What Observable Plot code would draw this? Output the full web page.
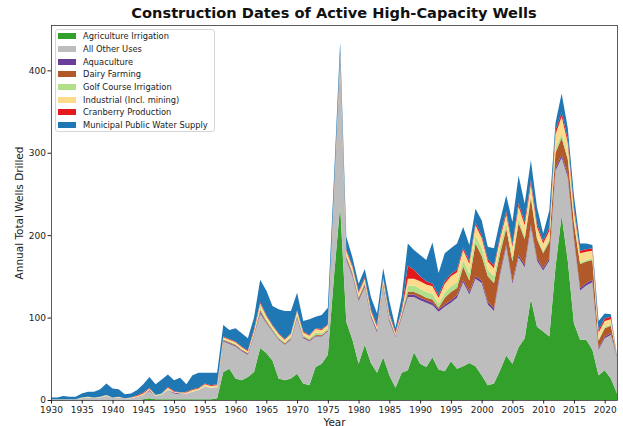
<!DOCTYPE html>
<html><head><meta charset="utf-8">
<script src="https://cdn.jsdelivr.net/npm/d3@7"></script>
<script src="https://cdn.jsdelivr.net/npm/@observablehq/plot@0.6"></script>
<style>
body{margin:0;background:#fff;font-family:"DejaVu Sans",sans-serif;}
#wrap{position:relative;width:623px;height:426px;overflow:hidden;}
#title{height:23px;padding-top:3px;box-sizing:border-box;line-height:20px;text-align:center;font-weight:bold;font-size:14.6px;color:#111;padding-left:45px;}
#legend{position:absolute;left:55px;top:29px;width:160px;height:103px;box-sizing:border-box;border:1px solid #d6d6d6;border-radius:3px;background:rgba(255,255,255,0.85);padding:0 0 0 2px;font-size:8.3px;color:#222;}
.item{height:12.7px;display:flex;align-items:center;white-space:nowrap;}
.sw{width:18px;height:6px;margin-right:7px;flex:none;}
</style></head><body>
<div id="wrap"><div id="title">Construction Dates of Active High-Capacity Wells</div><div id="chart"></div><div id="legend"></div></div>
<script>
const years = [1930,1931,1932,1933,1934,1935,1936,1937,1938,1939,1940,1941,1942,1943,1944,1945,1946,1947,1948,1949,1950,1951,1952,1953,1954,1955,1956,1957,1958,1959,1960,1961,1962,1963,1964,1965,1966,1967,1968,1969,1970,1971,1972,1973,1974,1975,1976,1977,1978,1979,1980,1981,1982,1983,1984,1985,1986,1987,1988,1989,1990,1991,1992,1993,1994,1995,1996,1997,1998,1999,2000,2001,2002,2003,2004,2005,2006,2007,2008,2009,2010,2011,2012,2013,2014,2015,2016,2017,2018,2019,2020,2021,2022];

const agriculture = [0,0,0,0,0,0,0,0,0,0, 0,0,0,0,0,1,2,1,1,1, 1,1,1,1,1,1,1,2,34,38, 26,24,28,34,63,57,48,26,24,26, 32,20,18,40,44,55,150,236,95,73, 44,67,45,33,52,30,15,33,36,58, 44,40,52,37,35,47,38,41,45,41, 30,18,20,36,54,44,64,75,123,89, 83,77,161,224,169,93,73,73,61,30, 36,26,8];
const otherUses = [1,1,1,1,1,2,3,3,3,5, 3,3,2,2,4,5,9,4,6,11, 7,6,7,9,11,15,14,13,37,30, 39,35,27,44,42,36,35,47,43,47, 67,55,53,37,33,28,95,172,75,77, 76,70,55,49,85,65,61,67,89,67, 77,78,63,70,78,71,86,102,83,106, 112,98,88,116,132,97,109,86,87,80, 74,92,117,70,101,101,60,66,82,31, 39,53,44];
const aquaculture = [0,0,0,0,0,0,0,0,0,0, 0,0,0,0,0,0,1,0,0,0, 1,1,0,0,0,0,0,0,1,1, 1,1,1,1,2,1,1,1,1,1, 1,1,1,1,1,1,2,2,2,2, 2,2,2,2,2,2,1,2,3,3, 3,3,3,3,3,3,3,3,3,3, 3,3,3,3,3,3,3,3,3,3, 3,3,3,4,3,3,3,3,3,2, 2,2,1];
const dairy = [0,0,0,0,0,0,0,0,0,0, 0,0,0,0,0,0,0,0,0,0, 0,0,0,0,0,0,0,0,1,1, 1,1,1,1,2,2,1,1,1,1, 2,1,1,1,1,1,2,2,2,2, 2,2,1,1,2,2,1,2,3,3, 4,3,4,2,8,10,9,16,14,40, 30,31,31,23,19,24,39,31,32,23, 18,20,19,20,19,18,29,26,24,9, 10,9,0];
const golf = [0,0,0,0,0,0,0,0,0,0, 0,0,0,0,0,0,0,0,0,1, 0,0,0,0,0,1,0,1,1,1, 1,1,0,1,3,2,2,2,1,2, 2,2,2,3,2,2,1,2,2,2, 2,2,2,1,2,2,1,2,8,8, 7,7,7,5,6,7,7,8,9,10, 10,8,8,8,7,6,5,4,4,3, 3,3,5,5,4,3,2,2,2,2, 2,2,0];
const industrial = [0,0,0,0,0,1,1,0,1,1, 0,1,0,1,1,2,2,1,1,2, 1,1,1,2,2,2,2,2,2,2, 2,2,2,3,5,4,3,3,3,3, 4,3,3,4,4,4,3,4,5,5, 4,4,3,3,4,2,2,2,8,8, 9,9,9,7,11,12,12,12,11,12, 12,10,10,10,10,12,15,13,13,12, 9,10,17,21,16,12,11,10,9,8, 7,6,0];
const cranberry = [0,0,0,0,0,0,0,0,0,0, 0,0,0,0,1,1,1,0,0,1, 1,0,1,1,1,1,1,1,1,1, 1,1,1,2,2,1,1,1,1,1, 1,1,1,1,1,1,2,2,2,2, 2,2,2,2,2,2,2,2,16,11, 6,4,3,3,3,3,3,3,3,3, 3,3,3,3,4,3,4,4,5,4, 3,4,5,5,5,4,3,3,3,3, 3,3,0];
const municipal = [2,2,4,3,3,5,6,7,9,14, 11,9,5,5,6,10,13,13,17,15, 13,18,9,17,18,13,15,14,14,11, 16,16,15,14,27,30,23,29,34,27, 21,13,19,14,17,20,15,14,15,10, 9,10,15,14,11,15,5,15,27,24, 26,26,50,27,34,31,32,25,20,17, 18,15,21,19,19,27,33,22,24,20, 9,21,9,23,13,14,9,7,4,11, 6,3,1];

const seriesNames = ["Agriculture Irrigation","All Other Uses","Aquaculture","Dairy Farming","Golf Course Irrigation","Industrial (Incl. mining)","Cranberry Production","Municipal Public Water Supply"];
const seriesColors = ["#33a02c","#bdbdbd","#6a3d9a","#b15928","#b2df8a","#fddb8c","#e31a1c","#1f78b4"];
const xTicks = [1930,1935,1940,1945,1950,1955,1960,1965,1970,1975,1980,1985,1990,1995,2000,2005,2010,2015,2020];
const yTicks = [0,100,200,300,400];

const seriesValues = [agriculture, otherUses, aquaculture, dairy, golf, industrial, cranberry, municipal];
const rows = [];
seriesNames.forEach((name, s) => {
  years.forEach((yr, i) => rows.push({year: yr, series: name, value: seriesValues[s][i]}));
});

const chart = Plot.plot({
  width: 623, height: 403,
  marginTop: 2, marginBottom: 26, marginLeft: 51, marginRight: 6,
  style: {fontFamily: "DejaVu Sans, sans-serif", fontSize: "9px", color: "#222", background: "white", overflow: "visible"},
  x: {domain: [1930, 2022]},
  y: {domain: [0, 455]},
  color: {domain: seriesNames, range: seriesColors},
  marks: [
    Plot.areaY(rows, {x: "year", y: "value", fill: "series", z: "series", curve: "linear", order: null}),
    Plot.frame({stroke: "#333", strokeWidth: 0.8}),
    Plot.axisX({ticks: xTicks, tickFormat: d => String(d), tickSize: 3.5, tickPadding: 3, label: null, fontSize: 9}),
    Plot.axisX({ticks: [], label: "Year", labelAnchor: "center", labelOffset: 25, labelArrow: "none", fontSize: 10.5}),
    Plot.axisY({ticks: yTicks, tickSize: 3.5, tickPadding: 2, label: null, fontSize: 9}),
    Plot.axisY({ticks: [], label: "Annual Total Wells Drilled", labelAnchor: "center", labelOffset: 36, labelArrow: "none", fontSize: 10.5})
  ]
});
document.getElementById("chart").appendChild(chart);

const legend = document.getElementById("legend");
seriesNames.forEach((name, i) => {
  const item = document.createElement("div");
  item.className = "item";
  const sw = document.createElement("span");
  sw.className = "sw";
  sw.style.background = seriesColors[i];
  const tx = document.createElement("span");
  tx.textContent = name;
  item.appendChild(sw); item.appendChild(tx);
  legend.appendChild(item);
});
</script>
</body></html>
